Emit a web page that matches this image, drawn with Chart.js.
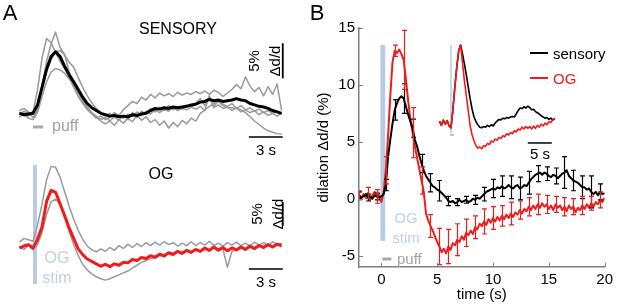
<!DOCTYPE html>
<html>
<head>
<meta charset="utf-8">
<script src="https://cdn.jsdelivr.net/npm/chart.js@4.4.1/dist/chart.umd.min.js"></script>
<style>
  body { margin: 0; background: #fff; }
  #fig { position: relative; width: 617px; height: 305px; overflow: hidden; background: #fff;
         font-family: "Liberation Sans", Arial, sans-serif; color: #000; }
  #fig canvas { position: absolute; }
  .t { position: absolute; white-space: nowrap; line-height: 1; transform: translate(-50%, -50%); }
  .t.l { transform: translate(0, -50%); }
  .t.r { transform: translate(-50%, -50%) rotate(-90deg); }
  .sw { position: absolute; height: 2px; width: 18px; }
</style>
</head>
<body>
<div id="fig">
  <canvas id="sensoryA" width="310" height="150" style="left:0;top:0"></canvas>
  <canvas id="ogA" width="310" height="155" style="left:0;top:150px"></canvas>
  <canvas id="meanB" width="307" height="305" style="left:310px;top:0"></canvas>
  <canvas id="insetB" width="130" height="125" style="left:430px;top:35px"></canvas>

  <div class="t" style="left:10px;top:13px;font-size:22px">A</div>
  <div class="t" style="left:317px;top:13px;font-size:22px">B</div>

  <div class="t" style="left:178px;top:29px;font-size:16px">SENSORY</div>
  <div class="t l" style="left:52px;top:126px;font-size:16px;color:#a3a3a3">puff</div>
  <div class="t r" style="left:253px;top:61px;font-size:15px;transform:translate(-50%,-50%) rotate(-90deg)">5%</div>
  <div class="t r" style="left:274px;top:61px;font-size:15px;transform:translate(-50%,-50%) rotate(-90deg)">Δd/d</div>
  <div class="t" style="left:266px;top:149px;font-size:15px">3 s</div>

  <div class="t" style="left:161px;top:174px;font-size:16px">OG</div>
  <div class="t" style="left:57px;top:258px;font-size:16px;color:#bfd0e8">OG</div>
  <div class="t" style="left:57px;top:278px;font-size:16px;color:#bfd0e8">stim</div>
  <div class="t r" style="left:256px;top:214px;font-size:15px;transform:translate(-50%,-50%) rotate(-90deg)">5%</div>
  <div class="t r" style="left:277px;top:214px;font-size:15px;transform:translate(-50%,-50%) rotate(-90deg)">Δd/d</div>
  <div class="t" style="left:266px;top:281px;font-size:15px">3 s</div>

  <div class="t" style="left:406px;top:217px;font-size:15px;color:#bfd0e8">OG</div>
  <div class="t" style="left:406px;top:237px;font-size:15px;color:#bfd0e8">stim</div>
  <div class="t l" style="left:397px;top:258px;font-size:15px;color:#a3a3a3">puff</div>

  <div class="sw" style="left:530px;top:52px;background:#000"></div>
  <div class="t l" style="left:553px;top:53px;font-size:15px">sensory</div>
  <div class="sw" style="left:530px;top:77px;background:#ee1c1c"></div>
  <div class="t l" style="left:553px;top:78px;font-size:15px;color:#ee1c1c">OG</div>
  <div class="t" style="left:540px;top:153px;font-size:15px">5 s</div>
</div>

<script>
Chart.defaults.font.family = '"Liberation Sans", Arial, sans-serif';
Chart.defaults.color = '#000';

const red = '#ee1c1c';
const grey = '#9a9a9a';
const axisGrey = '#7f7f7f';
const stimBlue = '#b7cbe6';

// panel A traces, sampled every 0.4 s starting at -1.2 s (dilation, %)
const aStart = -1.2, aStep = 0.4;
const sensoryMeanA = [
  0.1, -0.1, 0.0, 0.1, 1.3, 3.8, 6.4, 8.2, 8.9, 8.2,
  6.8, 5.6, 4.6, 3.5, 2.4, 1.5, 0.9, 0.5, 0.1, -0.1,
  -0.3, -0.2, -0.4, -0.3, -0.4, -0.1, -0.2, 0.0, 0.1, 0.5,
  0.8, 0.7, 0.9, 0.8, 1.0, 0.9, 1.0, 1.1, 1.3, 1.4,
  1.7, 1.8, 2.1, 1.9, 2.0, 1.8, 1.9, 2.0, 2.2, 2.0,
  1.9, 1.5, 1.3, 1.1, 1.0, 0.8, 0.5, 0.3, 0.1];
const sensoryTrial1A = [
  0.5, 0.8, 0.3, -0.5, 0.5, 4.0, 7.5, 10.0, 11.7, 9.5,
  8.5, 6.0, 4.5, 3.0, 1.8, 0.8, 0.2, -0.3, -0.8, -0.5,
  -1.0, -0.4, -0.9, -0.2, -0.8, 0.2, -0.5, 0.4, 0.0, 0.8,
  0.3, 1.0, 0.5, 1.2, 0.6, 1.1, 0.7, 1.3, 1.0, 1.5,
  2.2, 1.2, 2.5, 1.0, 2.0, 1.4, 1.1, 1.5, 0.8, 1.2,
  0.6, 0.9, 0.4, 0.7, 0.2, 0.5, 0.1, 0.4, 0.0];
const sensoryTrial2A = [
  -0.5, 0.2, -0.3, 0.2, 3.5, 8.0, 10.8, 10.2, 8.8, 7.5,
  6.5, 5.2, 3.8, 2.5, 1.5, 0.6, 0.0, -0.6, -0.3, -0.8,
  -0.5, 0.2, -0.2, 0.6, 1.2, 1.8, 1.5, 2.4, 2.0, 2.8,
  2.3, 3.0, 2.6, 2.9, 2.5, 3.1, 2.7, 3.0, 2.8, 3.2,
  2.9, 3.3, 2.8, 3.4, 3.1, 2.5, 3.0, 3.5, 4.2, 3.6,
  5.3, 4.0, 3.2, 3.8, 2.6, 3.9, 2.8, 4.3, 0.5];
const sensoryTrial3A = [
  0.3, -0.2, -0.6, -0.8, 0.2, 2.5, 4.6, 6.0, 6.5, 6.3,
  5.8, 5.0, 4.1, 3.0, 2.0, 1.0, 0.2, -0.5, -1.0, -1.4,
  -1.0, -1.6, -0.8, -1.3, -0.6, -1.1, -0.2, -0.9, -0.4, -1.2,
  -0.8, -1.6, -1.0, -2.0, -1.2, -1.8, -0.9, -1.4, -0.6, -1.0,
  0.1, 0.6, 1.1, 1.5, 1.8, 1.2, 0.9, 0.9, 0.8, 0.6,
  0.2, -0.4, -1.0, -1.5, -2.0, -2.4, -2.6, -2.8, -2.9];
const sensoryTrial4A = [
  0.0, 0.4, 0.1, 0.3, 1.0, 3.5, 6.0, 7.8, 8.8, 9.1,
  8.4, 7.4, 6.7, 5.2, 3.8, 2.6, 1.6, 0.8, 0.2, -0.2,
  0.1, -0.5, -0.1, -0.6, 0.0, -0.4, 0.3, -0.2, 0.4, 0.0,
  0.6, 0.2, 0.7, 0.4, 0.9, 0.5, 0.8, 0.6, 1.0, 0.7,
  1.1, 0.5, 2.6, 0.9, 1.3, 0.8, 1.0, 0.5, 0.9, 0.3,
  0.6, 0.2, 0.5, -0.1, 0.3, -0.2, 0.1, -0.3, 0.2];
const ogMeanA = [
  -0.2, 0.2, 0.5, -0.2, 1.6, 4.2, 9.5, 11.8, 11.4, 9.0,
  6.5, 4.0, 1.8, -0.4, -1.6, -2.5, -3.0, -3.5, -4.0, -3.6,
  -4.1, -3.5, -3.8, -3.2, -3.3, -2.6, -2.8, -2.2, -2.4, -1.8,
  -2.1, -1.5, -1.8, -1.2, -1.5, -0.9, -1.3, -0.7, -1.1, -0.5,
  -0.9, -0.2, -0.7, 0.0, -0.6, -0.1, -0.8, -0.2, -0.6, 0.0,
  -0.5, 0.2, -0.3, 0.3, -0.1, 0.5, 0.0, 0.6, 0.3];
const ogTrial1A = [
  1.0, 1.8, 1.5, 1.2, 4.5, 9.0, 14.0, 16.8, 16.6, 14.5,
  11.5, 8.5, 5.8, 3.5, 1.6, 0.2, -0.6, -1.0, -0.4, -0.9,
  -0.1, -0.7, 0.3, -0.3, 0.6, -0.1, 0.7, 0.1, 0.9, 0.3,
  1.0, 0.4, 1.1, 0.5, 0.9, 0.2, 0.8, 0.3, 1.1, 0.3,
  0.9, 0.4, 1.2, 0.3, 0.8, 0.2, 0.9, 0.4, 1.0, 0.3,
  0.8, 0.2, 1.0, 0.4, 0.9, 0.3, 1.1, 0.5, 0.8];
const ogTrial2A = [
  0.0, -0.5, 0.3, -0.6, 0.5, 3.0, 6.8, 9.4, 10.0, 8.8,
  6.2, 3.2, 0.5, -1.8, -3.6, -4.8, -5.6, -6.2, -6.6, -6.9,
  -6.6, -6.2, -5.8, -5.4, -5.0, -4.4, -3.8, -3.2, -2.8, -2.4,
  -2.4, -1.8, -2.1, -1.4, -1.8, -1.0, -1.5, -0.8, -1.2, -0.5,
  -1.0, -0.3, -0.8, -0.2, -0.9, -0.4, -4.2, -0.9, -0.6, -0.2,
  -0.7, 0.0, -0.5, 0.2, -0.3, 0.4, -0.1, 0.5, 0.0];

// panel B means, sampled every 0.2 s starting at -2 s; error bars on every 4th sample
const bStart = -2, bStep = 0.2, errEvery = 4;
const sensoryB = [
  0.3, 0.1, 0.2, 0.4, 0.1, 0.2, 0.0, 0.3, 0.2, 0.1,
  0.2, 0.4, 1.2, 3.6, 5.2, 6.6, 7.8, 8.4, 8.8, 9.0,
  8.8, 8.1, 7.4, 6.8, 6.2, 5.2, 4.6, 3.8, 3.1, 2.5,
  2.0, 1.7, 1.4, 1.1, 1.0, 0.8, 0.7, 0.5, 0.3, 0.1,
  -0.2, -0.3, -0.2, -0.4, -0.3, -0.1, -0.3, -0.2, -0.1, -0.3,
  -0.2, 0.0, -0.1, 0.1, 0.0, 0.2, 0.4, 0.6, 0.7, 0.8,
  0.9, 0.8, 1.0, 0.9, 1.1, 0.9, 1.0, 1.2, 1.0, 0.9,
  1.1, 1.2, 0.9, 1.0, 1.2, 1.1, 1.4, 1.7, 1.9, 2.1,
  2.2, 2.3, 2.1, 2.3, 2.2, 2.0, 1.9, 2.1, 2.0, 1.8,
  2.0, 2.2, 2.3, 2.5, 2.0, 1.8, 1.6, 1.5, 1.4, 1.2,
  1.0, 1.0, 0.8, 0.9, 0.6, 0.4, 0.6, 0.3, 0.6, 0.4,
  0.5];
const ogB = [
  0.3, 0.0, 0.4, 0.1, 0.5, -0.1, 0.3, 0.6, 0.2, 0.4,
  -0.3, 0.5, 2.5, 5.5, 9.0, 12.0, 13.0, 12.8, 13.1, 12.7,
  12.2, 10.5, 8.6, 7.0, 5.8, 4.6, 3.6, 2.6, 1.6, 0.6,
  -1.3, -1.9, -2.4, -2.8, -3.3, -3.8, -4.2, -4.7, -4.4, -4.8,
  -4.2, -4.5, -3.9, -4.1, -3.6, -3.8, -3.3, -3.6, -3.0, -3.2,
  -2.8, -3.1, -2.5, -2.7, -2.2, -2.4, -2.0, -2.3, -1.8, -2.1,
  -1.7, -2.0, -1.6, -1.9, -1.5, -1.8, -1.4, -1.7, -1.3, -1.6,
  -1.2, -1.4, -1.0, -1.3, -0.9, -1.1, -0.7, -1.0, -0.6, -0.9,
  -0.5, -0.8, -0.4, -0.7, -0.5, -0.9, -0.6, -1.0, -0.5, -0.8,
  -0.6, -1.0, -0.7, -1.1, -0.6, -0.9, -0.7, -1.2, -0.8, -1.0,
  -0.6, -0.9, -0.5, -0.8, -0.4, -0.7, -0.3, -0.5, -0.1, -0.3,
  0.1];
const sensoryErrB = [0.3, 0.3, 0.3, 0.5, 0.9, 1.3, 0.8, 0.8, 0.8, 0.9, 0.4, 0.3, 0.3, 0.4,
  0.6, 0.8, 0.9, 1.0, 1.0, 1.0, 0.7, 0.6, 0.7, 1.4, 0.9, 1.0, 1.4, 0.7];
const ogErrB = [0.4, 0.5, 0.6, 1.2, 0.5, 2.6, 2.2, 1.2, 1.0, 1.6, 1.5, 1.4, 1.2, 1.0,
  1.1, 1.0, 0.9, 1.0, 0.8, 0.8, 0.9, 0.8, 0.7, 0.8, 0.7, 0.8, 0.6, 0.7];
const timeTicksB = [0, 5, 10, 15, 20];
const dilationTicksB = [-5, 0, 5, 10, 15];

// inset: peak-normalised traces, every 0.4 s starting at -2.4 s
const insetStart = -2.4, insetStep = 0.4;
const ogInset = [
  0.3, -0.4, 0.5, -0.2, 0.4, -0.5, -0.8, 2.2, 6.0, 9.3,
  12.0, 13.0, 10.0, 7.0, 4.5, 2.0, -0.5, -2.0, -3.0, -3.8,
  -4.2, -4.0, -4.3, -3.8, -3.9, -3.4, -3.6, -3.0, -3.2, -2.7,
  -2.9, -2.4, -2.6, -2.1, -2.3, -1.8, -2.0, -1.6, -1.8, -1.3,
  -1.5, -1.0, -1.2, -0.7, -1.0, -0.6, -0.9, -0.6, -1.0, -0.5,
  -0.9, -0.4, -0.7, -0.2, -0.5, 0.0, -0.3, 0.2, 0.1, 0.5,
  0.8];
const sensoryInset = [
  0.3, -0.4, 0.5, -0.2, 0.4, -0.5, -0.8, 2.2, 6.0, 9.3,
  12.0, 13.0, 11.5, 9.8, 8.0, 6.0, 4.0, 2.3, 1.0, 0.2,
  -0.3, -0.7, -0.8, -0.6, -0.7, -0.4, -0.6, -0.3, -0.5, 0.0,
  0.3, 0.6, 0.5, 0.8, 0.7, 0.9, 0.8, 1.0, 1.1, 1.0,
  1.5, 2.1, 2.5, 2.4, 2.7, 2.5, 2.8, 2.6, 2.2, 2.3,
  1.9, 1.7, 1.5, 1.2, 1.0, 0.8, 0.9, 0.6, 0.8, 0.5,
  0.7];

function trace(values, t0, dt, color, width) {
  return {
    data: values.map((v, i) => ({ x: +(t0 + i * dt).toFixed(2), y: v })),
    borderColor: color,
    borderWidth: width,
    pointRadius: 0,
    tension: 0,
    borderJoinStyle: 'round',
    fill: false
  };
}

// stimulus bars and scale bars, given in data units
function marksPlugin(back, front) {
  const draw = (chart, list) => {
    const { ctx, scales: { x, y } } = chart;
    ctx.save();
    list.forEach(m => {
      const x0 = x.getPixelForValue(m.x[0]), x1 = x.getPixelForValue(m.x[1]);
      const y0 = y.getPixelForValue(m.y[0]), y1 = y.getPixelForValue(m.y[1]);
      if (m.fill) {
        ctx.fillStyle = m.fill;
        ctx.fillRect(Math.min(x0, x1), Math.min(y0, y1), Math.abs(x1 - x0), Math.abs(y1 - y0));
      } else {
        ctx.strokeStyle = m.color;
        ctx.lineWidth = m.width;
        ctx.beginPath();
        ctx.moveTo(x0, y0);
        ctx.lineTo(x1, y1);
        ctx.stroke();
      }
    });
    ctx.restore();
  };
  return {
    id: 'marks',
    beforeDatasetsDraw(chart) { draw(chart, back); },
    afterDatasetsDraw(chart) { draw(chart, front); }
  };
}

const errorBars = {
  id: 'errorBars',
  afterDatasetsDraw(chart) {
    const { ctx, chartArea, scales: { x, y } } = chart;
    ctx.save();
    ctx.beginPath();
    ctx.rect(chartArea.left, chartArea.top - 10, chartArea.width, chartArea.height + 10);
    ctx.clip();
    chart.data.datasets.forEach(ds => {
      if (!ds.errors) return;
      ctx.strokeStyle = ds.borderColor;
      ctx.lineWidth = 1.2;
      ds.errors.forEach((e, k) => {
        const p = ds.data[k * errEvery];
        if (!p) return;
        const px = Math.round(x.getPixelForValue(p.x)) + 0.5;
        const lo = y.getPixelForValue(p.y - e), hi = y.getPixelForValue(p.y + e);
        ctx.beginPath();
        ctx.moveTo(px, lo); ctx.lineTo(px, hi);
        ctx.moveTo(px - 2.5, lo); ctx.lineTo(px + 2.5, lo);
        ctx.moveTo(px - 2.5, hi); ctx.lineTo(px + 2.5, hi);
        ctx.stroke();
      });
    });
    ctx.restore();
  }
};

// MATLAB-style ticks pointing into the plot
const inwardTicks = {
  id: 'inwardTicks',
  afterDraw(chart) {
    const { ctx, chartArea, scales: { x, y } } = chart;
    ctx.save();
    ctx.strokeStyle = axisGrey;
    ctx.lineWidth = 1;
    ctx.beginPath();
    x.ticks.forEach(t => {
      const px = Math.round(x.getPixelForValue(t.value)) + 0.5;
      ctx.moveTo(px, chartArea.bottom); ctx.lineTo(px, chartArea.bottom - 4);
    });
    y.ticks.forEach(t => {
      const py = Math.round(y.getPixelForValue(t.value)) + 0.5;
      ctx.moveTo(chartArea.left, py); ctx.lineTo(chartArea.left + 4, py);
    });
    ctx.stroke();
    ctx.restore();
  }
};

function traceChart(id, datasets, xRange, yRange, back, front) {
  return new Chart(document.getElementById(id), {
    type: 'line',
    data: { datasets },
    options: {
      responsive: false,
      animation: false,
      events: [],
      layout: { padding: 0 },
      plugins: { legend: { display: false }, tooltip: { enabled: false } },
      scales: {
        x: { type: 'linear', min: xRange[0], max: xRange[1], display: false },
        y: { type: 'linear', min: yRange[0], max: yRange[1], display: false }
      }
    },
    plugins: [marksPlugin(back, front)]
  });
}

traceChart('sensoryA', [
  trace(sensoryMeanA, aStart, aStep, '#000', 3),
  trace(sensoryTrial1A, aStart, aStep, grey, 1.5),
  trace(sensoryTrial2A, aStart, aStep, grey, 1.5),
  trace(sensoryTrial3A, aStart, aStep, grey, 1.5),
  trace(sensoryTrial4A, aStart, aStep, grey, 1.5)
], [-2.92, 24.51], [-5.14, 16.29],
  [{ x: [0, 0.9], y: [-1.85, -1.85], color: '#a8a8a8', width: 3 }],
  [{ x: [22.1, 22.1], y: [5.1, 10.1], color: '#000', width: 1.8 },
   { x: [19.1, 22.1], y: [-3.3, -3.3], color: '#000', width: 1.5 }]);

traceChart('ogA', [
  trace(ogMeanA, aStart, aStep, red, 3),
  trace(ogTrial1A, aStart, aStep, grey, 1.5),
  trace(ogTrial2A, aStart, aStep, grey, 1.5)
], [-2.92, 24.51], [-12.08, 20.21],
  [{ x: [0, 0.35], y: [-7.7, 17.1], fill: stimBlue }],
  [{ x: [22.1, 22.1], y: [4.4, 9.4], color: '#000', width: 1.8 },
   { x: [19.1, 22.1], y: [-4.6, -4.6], color: '#000', width: 1.5 }]);

traceChart('insetB', [
  trace(ogInset, insetStart, insetStep, red, 1.6),
  trace(sensoryInset, insetStart, insetStep, '#000', 1.6)
], [-4.375, 22.71], [-6.17, 14.67],
  [{ x: [0, 0], y: [-1.7, 13], color: stimBlue, width: 1.5 },
   { x: [-0.2, 0.6], y: [-2, -2], color: '#aaa', width: 1.5 }],
  [{ x: [16, 21], y: [-3.33, -3.33], color: '#000', width: 1.5 }]);

const sensoryDs = trace(sensoryB, bStart, bStep, '#000', 2);
sensoryDs.errors = sensoryErrB;
const ogDs = trace(ogB, bStart, bStep, red, 2);
ogDs.errors = ogErrB;

new Chart(document.getElementById('meanB'), {
  type: 'line',
  data: { datasets: [sensoryDs, ogDs] },
  options: {
    responsive: false,
    animation: false,
    events: [],
    layout: { padding: { top: 28, right: 9, left: 0, bottom: 0 } },
    plugins: { legend: { display: false }, tooltip: { enabled: false } },
    scales: {
      x: {
        type: 'linear', min: -2, max: 20,
        afterBuildTicks: s => { s.ticks = timeTicksB.map(v => ({ value: v })); },
        afterFit: s => { s.height = 38; },
        grid: { display: false, drawTicks: false },
        border: { display: true, color: axisGrey, width: 1.5 },
        ticks: { padding: 4, autoSkip: false, maxRotation: 0, color: '#000', font: { size: 15 } },
        title: { display: true, text: 'time (s)', color: '#000', font: { size: 15 }, padding: { top: 0, bottom: 1 } }
      },
      y: {
        type: 'linear', min: -6, max: 15,
        afterBuildTicks: s => { s.ticks = dilationTicksB.map(v => ({ value: v })); },
        afterFit: s => { s.width = 49; },
        grid: { display: false, drawTicks: false },
        border: { display: true, color: axisGrey, width: 1.5 },
        ticks: { padding: 4, autoSkip: false, color: '#000', font: { size: 15 } },
        title: { display: true, text: 'dilation Δd/d (%)', color: '#000', font: { size: 15 }, padding: { top: 5, bottom: 0 } }
      }
    }
  },
  plugins: [
    marksPlugin(
      [{ x: [-0.08, 0.35], y: [-3.7, 13.5], fill: stimBlue }],
      [{ x: [0.1, 0.9], y: [-5.3, -5.3], color: '#a8a8a8', width: 3 }]),
    errorBars,
    inwardTicks
  ]
});
</script>
</body>
</html>
